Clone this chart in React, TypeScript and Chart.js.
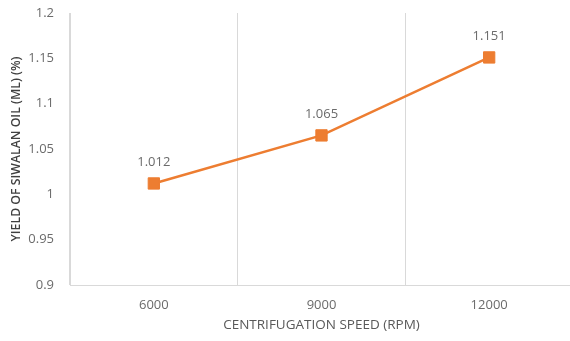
import React, { useEffect, useRef } from "react";
import { Chart, registerables } from "chart.js";

Chart.register(...registerables);

const speeds = ["6000", "9000", "12000"];
const yieldValues = [1.012, 1.065, 1.151];
const yMin = 0.9;
const yMax = 1.2;
const yStep = 0.05;
const xTitle = "CENTRIFUGATION SPEED (RPM)";
const yTitle = "YIELD OF SIWALAN OIL (ML) (%)";

const FONT = "'Open Sans', 'Liberation Sans', sans-serif";
const ORANGE = "#ED7D31";
const GRID = "#d9d9d9";
const TEXT = "#6b6b6b";

// Writes each point's value above its marker.
const valueLabels = {
  id: "valueLabels",
  afterDatasetsDraw(chart: any) {
    const ctx = chart.ctx;
    const meta = chart.getDatasetMeta(0);
    const data = chart.data.datasets[0].data as number[];
    ctx.save();
    ctx.font = `13px ${FONT}`;
    ctx.fillStyle = TEXT;
    ctx.textAlign = "center";
    ctx.textBaseline = "middle";
    meta.data.forEach((pt: any, i: number) => {
      ctx.fillText(data[i].toFixed(3), pt.x, pt.y - 21);
    });
    ctx.restore();
  },
};

export default function App() {
  const canvasRef = useRef<HTMLCanvasElement | null>(null);

  useEffect(() => {
    if (!canvasRef.current) return;
    const chart = new Chart(canvasRef.current, {
      type: "line",
      data: {
        labels: speeds,
        datasets: [
          {
            data: yieldValues,
            borderColor: ORANGE,
            backgroundColor: ORANGE,
            borderWidth: 2.5,
            pointStyle: "rect",
            pointRadius: 8,
            pointBorderWidth: 1,
            pointBackgroundColor: ORANGE,
            pointBorderColor: ORANGE,
            tension: 0,
          },
        ],
      },
      options: {
        responsive: false,
        animation: false,
        layout: { padding: { top: 13, left: 0, right: 0, bottom: 0 } },
        plugins: {
          legend: { display: false },
          tooltip: { enabled: false },
        },
        scales: {
          x: {
            offset: true,
            grid: {
              offset: true,
              color: GRID,
              lineWidth: 1,
              drawTicks: false,
            },
            border: { color: GRID },
            ticks: {
              color: TEXT,
              font: { family: FONT, size: 13 },
              padding: 12,
            },
            title: {
              display: true,
              text: xTitle,
              color: "#595959",
              font: { family: FONT, size: 13.5 },
              padding: { top: 0, bottom: 8 },
            },
            afterFit(scale: any) {
              scale.height = 56;
            },
          },
          y: {
            min: yMin,
            max: yMax,
            grid: { display: false, drawTicks: false },
            border: { color: GRID },
            ticks: {
              stepSize: yStep,
              color: TEXT,
              font: { family: FONT, size: 13 },
              padding: 16,
              callback: (v: any) => String(Number(Number(v).toFixed(2))),
            },
            title: {
              display: true,
              text: yTitle,
              color: "#404040",
              font: { family: FONT, size: 12.3, weight: "600" },
              padding: { top: 9, bottom: 0 },
            },
            afterFit(scale: any) {
              scale.width = 70;
              scale.paddingTop = 0;
              scale.paddingBottom = 0;
            },
          },
        },
      },
      plugins: [valueLabels],
    });
    return () => chart.destroy();
  }, []);

  return (
    <div
      style={{
        position: "fixed",
        left: 0,
        top: 0,
        width: 570,
        height: 341,
        overflow: "hidden",
        background: "#fff",
      }}
    >
      <canvas ref={canvasRef} width={582} height={341} style={{ display: "block" }} />
    </div>
  );
}
